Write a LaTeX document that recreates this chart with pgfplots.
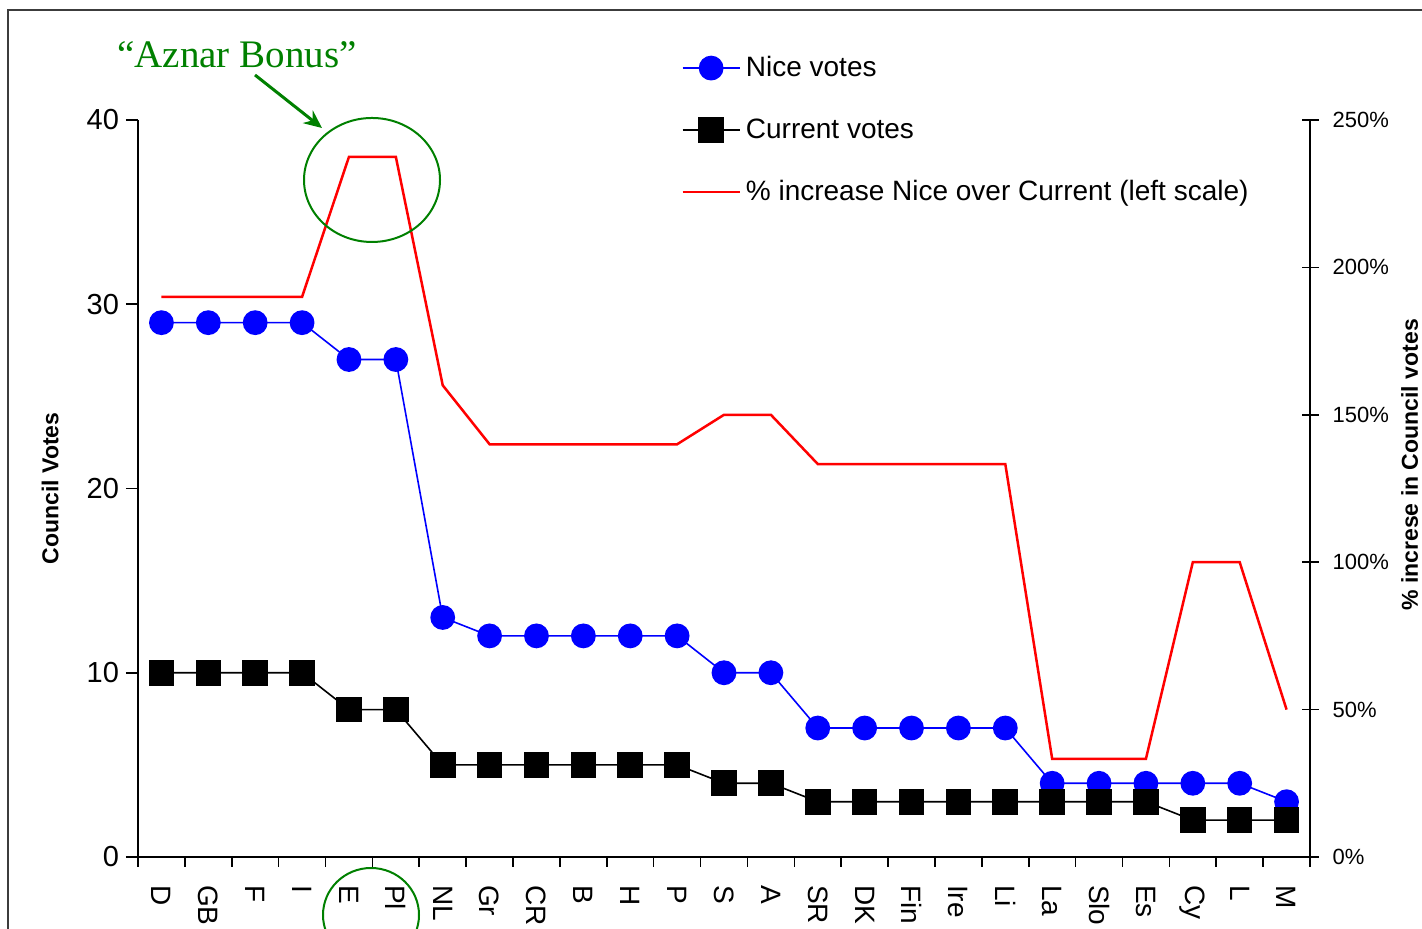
\documentclass[border=0pt]{standalone}
\usepackage{pgfplots}
\pgfplotsset{compat=1.18}
\usepackage{fontspec}
\setmainfont{Liberation Sans}
\newfontfamily\seriffont{Liberation Serif}
\usetikzlibrary{arrows.meta}
\definecolor{ngreen}{RGB}{0,128,0}
\definecolor{framegray}{RGB}{60,60,60}

\begin{document}
\begin{tikzpicture}
\path[use as bounding box] (0,0) rectangle (711pt,464.5pt);
\clip (0,0) rectangle (711pt,464.5pt);
\draw[framegray, line width=1pt] (3.75pt,-20pt) -- (3.75pt,459.5pt) -- (750pt,459.5pt);

\begin{axis}[
  at={(69pt,36pt)}, anchor=south west, scale only axis,
  width=586pt, height=368.5pt,
  xmin=-0.5, xmax=24.5, ymin=0, ymax=40,
  axis x line*=bottom, axis y line*=left,
  axis line style={-, line width=0.8pt},
  tick style={black, line width=0.8pt},
  xtick={0,...,24},
  xticklabels={D,GB,F,I,E,Pl,NL,Gr,CR,B,H,P,S,A,SR,DK,Fin,Ire,Li,La,Slo,Es,Cy,L,M},
  major x tick style={draw=none},
  minor xtick={-0.5,0.5,...,24.5},
  ytick={0,10,...,40},
  tick align=outside,
  major tick length=6pt, minor tick length=5pt,
  xticklabel style={rotate=-90, anchor=west, font=\fontsize{14}{16}\selectfont},
  xticklabel shift=4.5pt,
  yticklabel style={font=\fontsize{14.5}{17}\selectfont},
  /pgf/number format/assume math mode=true,
  ylabel={\textbf{Council Votes}},
  ylabel style={at={(axis description cs:-0.075,0.5)}, anchor=center, font=\fontsize{11.5}{13}\selectfont},
  clip=false,
  legend style={at={(0.4633,1.0895)}, anchor=north west, draw=none, fill=none,
    inner sep=0pt, row sep=17.5pt, column sep=1.5pt,
    font=\fontsize{14}{16}\selectfont, nodes={inner sep=1pt}},
  legend cell align=left,
  legend image code/.code={\draw[mark repeat=2,mark phase=2,#1] plot coordinates {(0pt,0pt) (14.25pt,0pt) (28.5pt,0pt)};},
]
\addplot[blue, line width=0.8pt, mark=*, mark size=5.8pt, mark options={fill=blue, draw=blue}] coordinates {
(0,29) (1,29) (2,29) (3,29) (4,27) (5,27) (6,13) (7,12) (8,12) (9,12) (10,12) (11,12)
(12,10) (13,10) (14,7) (15,7) (16,7) (17,7) (18,7) (19,4) (20,4) (21,4) (22,4) (23,4) (24,3)};
\addlegendentry{Nice votes}
\addplot[black, line width=0.8pt, mark=square*, mark size=6pt, mark options={fill=black, draw=black}] coordinates {
(0,10) (1,10) (2,10) (3,10) (4,8) (5,8) (6,5) (7,5) (8,5) (9,5) (10,5) (11,5)
(12,4) (13,4) (14,3) (15,3) (16,3) (17,3) (18,3) (19,3) (20,3) (21,3) (22,2) (23,2) (24,2)};
\addlegendentry{Current votes}
\addlegendimage{red, line width=1.25pt}
\addlegendentry{\% increase Nice over Current (left scale)}
\end{axis}

\begin{axis}[
  at={(69pt,36pt)}, anchor=south west, scale only axis,
  width=586pt, height=368.5pt,
  xmin=-0.5, xmax=24.5, ymin=0, ymax=250,
  hide x axis, axis y line*=right,
  axis line style={-, line width=0.8pt},
  tick style={black, line width=0.8pt},
  ytick={0,50,...,250},
  tick align=center, major tick length=8.5pt,
  yticklabel={\pgfmathprintnumber{\tick}\%},
  yticklabel style={font=\fontsize{11}{13}\selectfont, xshift=3.5pt},
  /pgf/number format/assume math mode=true,
  ylabel={\textbf{\% increse in Council votes}},
  ylabel style={at={(axis description cs:1.085,0.532)}, anchor=center, font=\fontsize{11.5}{13}\selectfont},
  clip=false,
]
\addplot[red, line width=1.25pt] coordinates {
(0,190) (1,190) (2,190) (3,190) (4,237.5) (5,237.5) (6,160) (7,140) (8,140) (9,140) (10,140) (11,140)
(12,150) (13,150) (14,133.3) (15,133.3) (16,133.3) (17,133.3) (18,133.3) (19,33.3) (20,33.3) (21,33.3) (22,100) (23,100) (24,50)};
\end{axis}

\node[text=ngreen, font=\seriffont\fontsize{19.5}{22}\selectfont] at (118.5pt,437pt) {“Aznar Bonus”};
\draw[ngreen, line width=1.5pt, -{Stealth[length=9pt,width=8pt]}] (127.5pt,427pt) -- (161pt,400.5pt);
\draw[ngreen, line width=1pt] (186pt,374.5pt) ellipse [x radius=34pt, y radius=31pt];
\draw[ngreen, line width=1pt] (185.5pt,7pt) ellipse [x radius=24pt, y radius=23.5pt];
\end{tikzpicture}
\end{document}
